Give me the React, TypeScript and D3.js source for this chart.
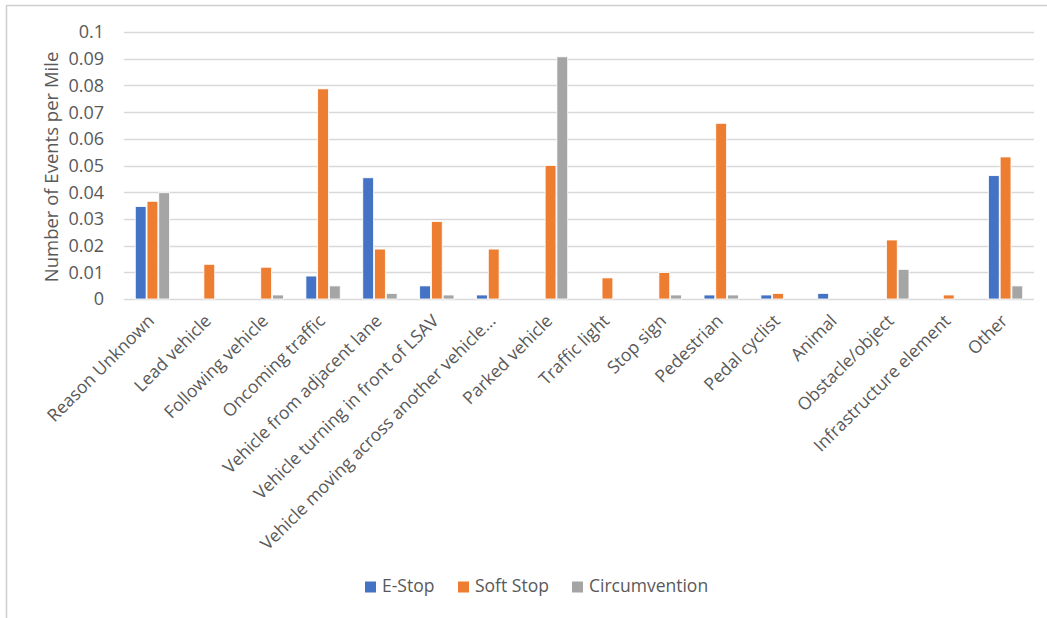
import React from "react";
import * as d3 from "d3";

const categories = [
  "Reason Unknown",
  "Lead vehicle",
  "Following vehicle",
  "Oncoming traffic",
  "Vehicle from adjacent lane",
  "Vehicle turning in front of LSAV",
  "Vehicle moving across another vehicle...",
  "Parked vehicle",
  "Traffic light",
  "Stop sign",
  "Pedestrian",
  "Pedal cyclist",
  "Animal",
  "Obstacle/object",
  "Infrastructure element",
  "Other",
];

const seriesNames = ["E-Stop", "Soft Stop", "Circumvention"];
const seriesColors = ["#4472C4", "#ED7D31", "#A5A5A5"];

const eStop = [0.0346, 0, 0, 0.0086, 0.0454, 0.0049, 0.0015, 0, 0, 0, 0.0015, 0.0015, 0.0021, 0, 0, 0.0462];
const softStop = [0.0366, 0.013, 0.0119, 0.0787, 0.0187, 0.029, 0.0187, 0.05, 0.0079, 0.0099, 0.0658, 0.0021, 0, 0.0221, 0.0015, 0.0532];
const circumvention = [0.0398, 0, 0.0015, 0.0049, 0.0021, 0.0015, 0, 0.0907, 0, 0.0015, 0.0015, 0, 0, 0.0111, 0, 0.0049];

const yTicks = [0, 0.01, 0.02, 0.03, 0.04, 0.05, 0.06, 0.07, 0.08, 0.09, 0.1];
const yTickLabels = ["0", "0.01", "0.02", "0.03", "0.04", "0.05", "0.06", "0.07", "0.08", "0.09", "0.1"];

const W = 1047;
const H = 618;
const FONT = "'Open Sans', 'Segoe UI', sans-serif";
const TEXT = "#595959";
const GRID = "#d9d9d9";

export default function App() {
  const seriesValues = [eStop, softStop, circumvention];

  const x = d3.scaleBand<string>().domain(categories).range([124, 1034]).padding(0);
  const xInner = d3
    .scaleBand<string>()
    .domain(seriesNames)
    .range([0, x.bandwidth()])
    .paddingInner(0.08)
    .paddingOuter(0.96);
  const y = d3.scaleLinear().domain([0, 0.1]).range([299, 32]);

  const legendItems = [
    { name: seriesNames[0], color: seriesColors[0], x: 365 },
    { name: seriesNames[1], color: seriesColors[1], x: 458 },
    { name: seriesNames[2], color: seriesColors[2], x: 572 },
  ];

  return (
    <div style={{ position: "absolute", left: 0, top: 0, width: W, height: H }}>
      <svg width={W} height={H} style={{ display: "block", background: "#fff" }}>
        {/* chart frame edges */}
        <line x1={6.5} x2={6.5} y1={5} y2={H} stroke="#cfcfcf" strokeWidth={1.5} />
        <line x1={6} x2={W} y1={5.5} y2={5.5} stroke="#cfcfcf" strokeWidth={1.5} />

        {/* gridlines */}
        {yTicks.map((t) => (
          <line
            key={"g" + t}
            x1={124}
            x2={1034}
            y1={Math.round(y(t)) + 0.5}
            y2={Math.round(y(t)) + 0.5}
            stroke={GRID}
            strokeWidth={1.3}
          />
        ))}

        {/* y tick labels */}
        {yTicks.map((t, i) => (
          <text
            key={"t" + t}
            x={104}
            y={y(t)}
            dy="0.36em"
            textAnchor="end"
            fontFamily={FONT}
            fontSize={18}
            fill={TEXT}
          >
            {yTickLabels[i]}
          </text>
        ))}

        {/* y axis title */}
        <text
          transform={`translate(52,167) rotate(-90)`}
          textAnchor="middle"
          dy="0.35em"
          fontFamily={FONT}
          fontSize={18.5}
          fill={TEXT}
        >
          Number of Events per Mile
        </text>

        {/* bars */}
        {categories.map((c, ci) => (
          <g key={c} transform={`translate(${x(c)},0)`}>
            {seriesNames.map((s, si) => {
              const v = seriesValues[si][ci];
              if (!v) return null;
              return (
                <rect
                  key={s}
                  x={xInner(s)}
                  y={y(v)}
                  width={xInner.bandwidth()}
                  height={y(0) - y(v)}
                  fill={seriesColors[si]}
                  stroke="#fff"
                  strokeWidth={0.8}
                />
              );
            })}
          </g>
        ))}

        {/* category labels */}
        {categories.map((c) => (
          <text
            key={"l" + c}
            transform={`translate(${(x(c) as number) + x.bandwidth() / 2 + 3},322) rotate(-45)`}
            textAnchor="end"
            fontFamily={FONT}
            fontSize={17.5}
            fill={TEXT}
          >
            {c}
          </text>
        ))}

        {/* legend */}
        {legendItems.map((it) => (
          <g key={it.name}>
            <rect x={it.x} y={581.5} width={11} height={11} fill={it.color} />
            <text
              x={it.x + 17}
              y={586}
              dy="0.35em"
              fontFamily={FONT}
              fontSize={17.5}
              fill={TEXT}
            >
              {it.name}
            </text>
          </g>
        ))}
      </svg>
    </div>
  );
}
